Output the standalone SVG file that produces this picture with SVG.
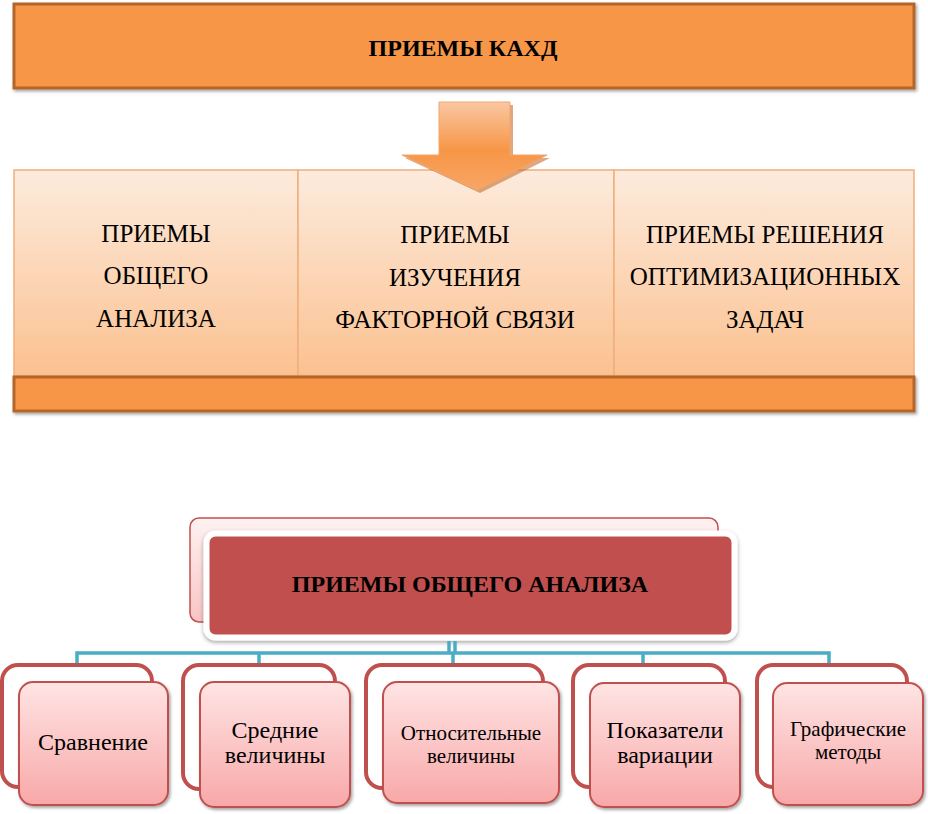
<svg xmlns="http://www.w3.org/2000/svg" width="928" height="814" viewBox="0 0 928 814">
<defs>
<linearGradient id="gBox" x1="0" y1="0" x2="0" y2="1">
<stop offset="0" stop-color="#FDEBDD"/>
<stop offset="1" stop-color="#FBC190"/>
</linearGradient>
<linearGradient id="gArrow" x1="0" y1="0" x2="0" y2="1">
<stop offset="0" stop-color="#FAC7A2"/>
<stop offset="0.55" stop-color="#F79646"/>
<stop offset="1" stop-color="#F8A566"/>
</linearGradient>
<linearGradient id="gPinkBack" x1="0" y1="0" x2="0" y2="1">
<stop offset="0" stop-color="#FFF2F2"/>
<stop offset="1" stop-color="#F8C4C4"/>
</linearGradient>
<linearGradient id="gChild" x1="0" y1="0" x2="0" y2="1">
<stop offset="0" stop-color="#FFE4E4"/>
<stop offset="1" stop-color="#F8A8A8"/>
</linearGradient>
<filter id="sh" x="-10%" y="-10%" width="120%" height="130%">
<feDropShadow dx="1.5" dy="2" stdDeviation="1.5" flood-color="#000" flood-opacity="0.35"/>
</filter>
<filter id="sh2" x="-10%" y="-10%" width="120%" height="130%">
<feDropShadow dx="0" dy="2" stdDeviation="2" flood-color="#000" flood-opacity="0.35"/>
</filter>
</defs>
<style>
text{font-family:'Liberation Serif','DejaVu Serif','Times New Roman',serif;fill:#000;text-anchor:middle}
.big{font-size:25px}
.bold{font-weight:bold;font-size:24px}
.c24{font-size:24px}
.c21{font-size:21px}
.orange{fill:#F79646;stroke:#B5652B;stroke-width:3}
.col{fill:url(#gBox);stroke:#F0AE7C;stroke-width:1.5}
.cback{fill:#fff;stroke:#C0504D;stroke-width:4}
.cfront{fill:url(#gChild);stroke:#C0504D;stroke-width:2}
.conn{stroke:#4BACC6;stroke-width:3.5;fill:none}
</style>

<g id="kahd">
<rect class="orange" x="14" y="4" width="900" height="84" filter="url(#sh)"/>
<text class="bold" x="463" y="56" font-family="Liberation Serif, serif">ПРИЕМЫ КАХД</text>
</g>

<g id="columns">
<g id="col-general">
<rect class="col" x="14" y="170" width="284" height="206"/>
<text class="big" x="156" y="242" font-family="Liberation Serif, serif">ПРИЕМЫ</text>
<text class="big" x="156" y="284" font-family="Liberation Serif, serif">ОБЩЕГО</text>
<text class="big" x="156" y="327" font-family="Liberation Serif, serif">АНАЛИЗА</text>
</g>
<g id="col-factor">
<rect class="col" x="298" y="170" width="316" height="206"/>
<text class="big" x="455" y="243" font-family="Liberation Serif, serif">ПРИЕМЫ</text>
<text class="big" x="455" y="286" font-family="Liberation Serif, serif">ИЗУЧЕНИЯ</text>
<text class="big" x="455" y="328" font-family="Liberation Serif, serif">ФАКТОРНОЙ СВЯЗИ</text>
</g>
<g id="col-optim">
<rect class="col" x="614" y="170" width="300" height="206"/>
<text class="big" x="765" y="243" font-family="Liberation Serif, serif">ПРИЕМЫ РЕШЕНИЯ</text>
<text class="big" x="765" y="285" font-family="Liberation Serif, serif">ОПТИМИЗАЦИОННЫХ</text>
<text class="big" x="765" y="328" font-family="Liberation Serif, serif">ЗАДАЧ</text>
</g>
<rect id="bar" class="orange" x="14" y="377" width="900" height="34" filter="url(#sh)"/>
</g>

<g id="arrow">
<polygon points="442,105 513,105 513,158 550,158 480,193 405,158 442,158" fill="#C8702E" opacity="0.6"/>
<polygon points="439,102 510,102 510,155 547,155 477,190 402,155 439,155" fill="url(#gArrow)" stroke="#F3A56A" stroke-width="1"/>
</g>

<g id="general">
<rect x="190" y="518" width="528" height="104" rx="9" fill="url(#gPinkBack)" stroke="#C0504D" stroke-width="1.5"/>
<rect x="206.5" y="533.5" width="528" height="104" rx="9" fill="#C0504D" stroke="#fff" stroke-width="6" filter="url(#sh2)"/>
<text class="bold" x="470" y="592" font-family="Liberation Serif, serif">ПРИЕМЫ ОБЩЕГО АНАЛИЗА</text>
</g>

<g id="connectors">
<line class="conn" x1="449" y1="641" x2="449" y2="652" stroke-width="2.5"/>
<line class="conn" x1="455" y1="641" x2="455" y2="652" stroke-width="2.5"/>
<polyline class="conn" points="77,665 77,653 829,653 829,665"/>
<line class="conn" x1="259" y1="653" x2="259" y2="665"/>
<line class="conn" x1="453" y1="653" x2="453" y2="665"/>
<line class="conn" x1="643" y1="653" x2="643" y2="665"/>
</g>

<g id="c1">
<rect class="cback" x="2" y="665" width="150" height="122" rx="16"/>
<rect class="cfront" x="19" y="682" width="149" height="123" rx="14" filter="url(#sh)"/>
<text class="c24" x="93" y="750" font-family="Liberation Serif, serif">Сравнение</text>
</g>
<g id="c2">
<rect class="cback" x="183" y="665" width="152" height="124" rx="16"/>
<rect class="cfront" x="200" y="682" width="150" height="125" rx="14" filter="url(#sh)"/>
<text class="c24" x="275" y="738" font-family="Liberation Serif, serif">Средние</text>
<text class="c24" x="275" y="763" font-family="Liberation Serif, serif">величины</text>
</g>
<g id="c3">
<rect class="cback" x="366" y="665" width="177" height="123" rx="16"/>
<rect class="cfront" x="383" y="682" width="176" height="121" rx="14" filter="url(#sh)"/>
<text class="c21" x="471" y="740" font-family="Liberation Serif, serif">Относительные</text>
<text class="c21" x="471" y="763" font-family="Liberation Serif, serif">величины</text>
</g>
<g id="c4">
<rect class="cback" x="573" y="665" width="152" height="122" rx="16"/>
<rect class="cfront" x="590" y="683" width="150" height="124" rx="14" filter="url(#sh)"/>
<text class="c24" x="665" y="738" font-family="Liberation Serif, serif">Показатели</text>
<text class="c24" x="665" y="763" font-family="Liberation Serif, serif">вариации</text>
</g>
<g id="c5">
<rect class="cback" x="757" y="665" width="150" height="122" rx="16"/>
<rect class="cfront" x="773" y="683" width="150" height="122" rx="14" filter="url(#sh)"/>
<text class="c21" x="848" y="736" font-family="Liberation Serif, serif">Графические</text>
<text class="c21" x="848" y="759" font-family="Liberation Serif, serif">методы</text>
</g>
</svg>
